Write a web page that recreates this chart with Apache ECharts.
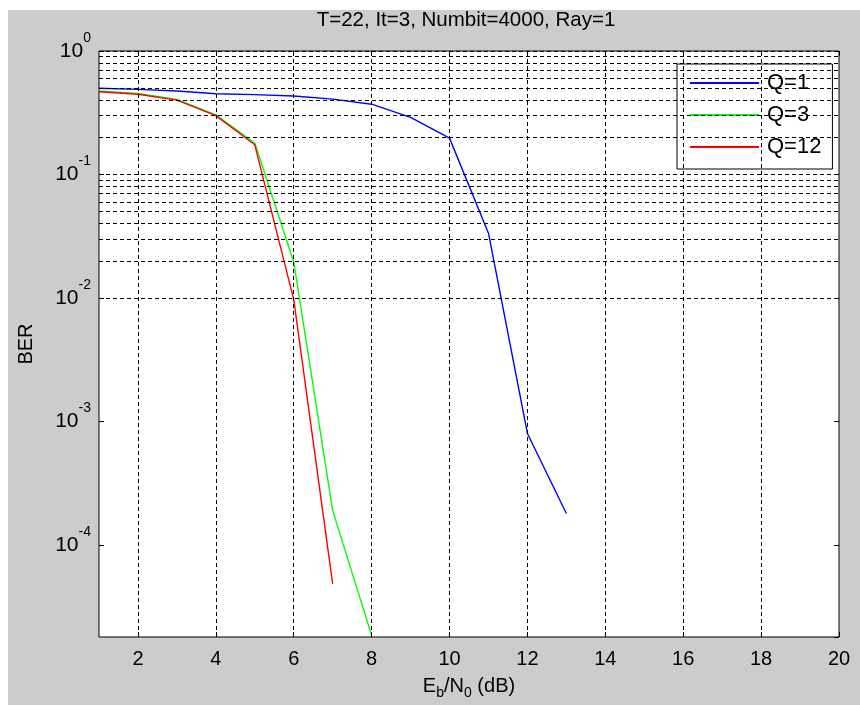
<!DOCTYPE html>
<html>
<head>
<meta charset="utf-8">
<script src="https://cdn.jsdelivr.net/npm/echarts@6/dist/echarts.min.js"></script>
<style>
  html, body { margin: 0; padding: 0; background: #ffffff; width: 860px; height: 707px; overflow: hidden; }
  #c { position: absolute; left: 8px; top: 10px; width: 852px; height: 695px; }
</style>
</head>
<body>
<div id="c"></div>
<script>
// ---- data ----
const titleText = 'T=22, It=3, Numbit=4000, Ray=1';
const seriesNames = ['Q=1', 'Q=3', 'Q=12'];
const snrQ1 = [1, 2, 3, 4, 5, 6, 7, 8, 9, 10, 11, 12, 13];
const berQ1 = [0.499, 0.489, 0.474, 0.451, 0.443, 0.432, 0.408, 0.371, 0.29, 0.197, 0.0335, 8.0e-4, 1.8e-4];
const snrQ3 = [1, 2, 3, 4, 5, 6, 7, 8];
const berQ3 = [0.474, 0.454, 0.406, 0.304, 0.18, 0.0196, 1.9e-4, 1.85e-5];
const snrQ12 = [1, 2, 3, 4, 5, 6, 7];
const berQ12 = [0.468, 0.446, 0.40, 0.30, 0.174, 0.0097, 4.85e-5];
const xTicks = [2, 4, 6, 8, 10, 12, 14, 16, 18, 20];
const xGrid = [2, 4, 6, 8, 10, 12, 14, 16, 18];
const yDecades = [1e-5, 1e-4, 1e-3, 1e-2, 1e-1, 1];
const yMinorMultipliers = [1, 2, 3, 4, 5, 6, 7, 8, 9];
const xRange = [1, 20];
const yRange = [1.8e-5, 1];

const colors = ['#0000ff', '#00ff00', '#ff0000'];

function pairs(xs, ys) { return xs.map((x, i) => [x, ys[i]]); }

// y grid values: every 1..9 multiple of each decade inside the range
const yGrid = [];
yDecades.forEach(d => yMinorMultipliers.forEach(m => {
  const v = d * m;
  if (v >= yRange[0] * 1.0001 && v <= yRange[1] * 1.0001) yGrid.push(v);
}));

const gridLineStyle = { color: '#000000', width: 1, type: [4, 3] };

const markLines = []
  .concat(xGrid.map(v => ({ xAxis: v })))
  .concat(yGrid.map(v => ({ yAxis: v })));

function expLabel(v) {
  const e = Math.log10(v);
  if (Math.abs(e - Math.round(e)) > 1e-6) return '';
  return '{b|10}{e|' + Math.round(e) + '}';
}

const chart = echarts.init(document.getElementById('c'), null, { renderer: 'canvas' });
const fontFam = '"Liberation Sans", Arial, Helvetica, sans-serif';

chart.setOption({
  animation: false,
  backgroundColor: '#cccccc',
  textStyle: { fontFamily: fontFam, color: '#000' },
  title: {
    text: titleText,
    left: 458,
    top: 0,
    textAlign: 'center',
    padding: 0,
    textStyle: { fontFamily: fontFam, fontSize: 20.5, fontWeight: 'normal', color: '#000', lineHeight: 20 }
  },
  legend: {
    orient: 'vertical',
    left: 669,
    top: 54,
    padding: [8, 11, 11, 13],
    itemGap: 10,
    itemWidth: 69,
    itemHeight: 2,
    icon: 'rect',
    backgroundColor: '#ffffff',
    borderColor: '#000000',
    borderWidth: 1,
    borderRadius: 0,
    data: seriesNames,
    textStyle: { fontFamily: fontFam, fontSize: 22, color: '#000', lineHeight: 22, padding: [0, 0, 0, 3] }
  },
  grid: {
    left: 83, top: 41, right: 21, bottom: 61,
    show: true,
    backgroundColor: '#ffffff',
    borderColor: '#000000',
    borderWidth: 1,
    containLabel: false
  },
  xAxis: [{
    type: 'value',
    min: xRange[0], max: xRange[1],
    position: 'bottom',
    name: '{n|E}{s|b}{n|/N}{s|0}{n| (dB)}',
    nameLocation: 'middle',
    nameGap: 35,
    nameTextStyle: {
      rich: {
        n: { fontFamily: fontFam, fontSize: 20, color: '#000' },
        s: { fontFamily: fontFam, fontSize: 14, color: '#000', padding: [14, 0, 0, 0] }
      }
    },
    axisLine: { show: false },
    axisTick: { show: true, inside: true, length: 5, customValues: xTicks, lineStyle: { color: '#000' } },
    axisLabel: { customValues: xTicks, margin: 12, fontFamily: fontFam, fontSize: 20, color: '#000' },
    splitLine: { show: false }
  }, {
    type: 'value',
    min: xRange[0], max: xRange[1],
    position: 'top',
    axisLine: { show: false },
    axisTick: { show: true, inside: true, length: 5, customValues: xTicks, lineStyle: { color: '#000' } },
    axisLabel: { show: false },
    splitLine: { show: false }
  }],
  yAxis: [{
    type: 'log',
    logBase: 10,
    min: yRange[0], max: yRange[1],
    position: 'left',
    name: 'BER',
    nameLocation: 'middle',
    nameGap: 63,
    nameRotate: 90,
    nameTextStyle: { fontFamily: fontFam, fontSize: 20, color: '#000' },
    axisLine: { show: false },
    axisTick: { show: true, inside: true, length: 5, lineStyle: { color: '#000' } },
    axisLabel: {
      showMinLabel: false,
      margin: 8,
      formatter: expLabel,
      rich: {
        b: { fontFamily: fontFam, fontSize: 21, color: '#000' },
        e: { fontFamily: fontFam, fontSize: 14, color: '#000', padding: [0, 0, 26, 0] }
      }
    },
    splitLine: { show: false }
  }, {
    type: 'log',
    logBase: 10,
    min: yRange[0], max: yRange[1],
    position: 'right',
    axisLine: { show: false },
    axisTick: { show: true, inside: true, length: 5, lineStyle: { color: '#000' } },
    axisLabel: { show: false },
    splitLine: { show: false }
  }],
  series: [
    {
      name: '__grid',
      type: 'line',
      data: [],
      silent: true,
      z: 1,
      markLine: {
        silent: true,
        symbol: 'none',
        label: { show: false },
        lineStyle: gridLineStyle,
        emphasis: { disabled: true },
        data: markLines,
        animation: false
      }
    },
    {
      name: seriesNames[0], type: 'line', data: pairs(snrQ1, berQ1),
      symbol: 'none', z: 3, color: colors[0],
      lineStyle: { color: colors[0], width: 1.4 }
    },
    {
      name: seriesNames[1], type: 'line', data: pairs(snrQ3, berQ3),
      symbol: 'none', z: 3, color: colors[1],
      lineStyle: { color: colors[1], width: 1.4 }
    },
    {
      name: seriesNames[2], type: 'line', data: pairs(snrQ12, berQ12),
      symbol: 'none', z: 4, color: colors[2],
      lineStyle: { color: colors[2], width: 1.4 }
    }
  ]
});
</script>
</body>
</html>
